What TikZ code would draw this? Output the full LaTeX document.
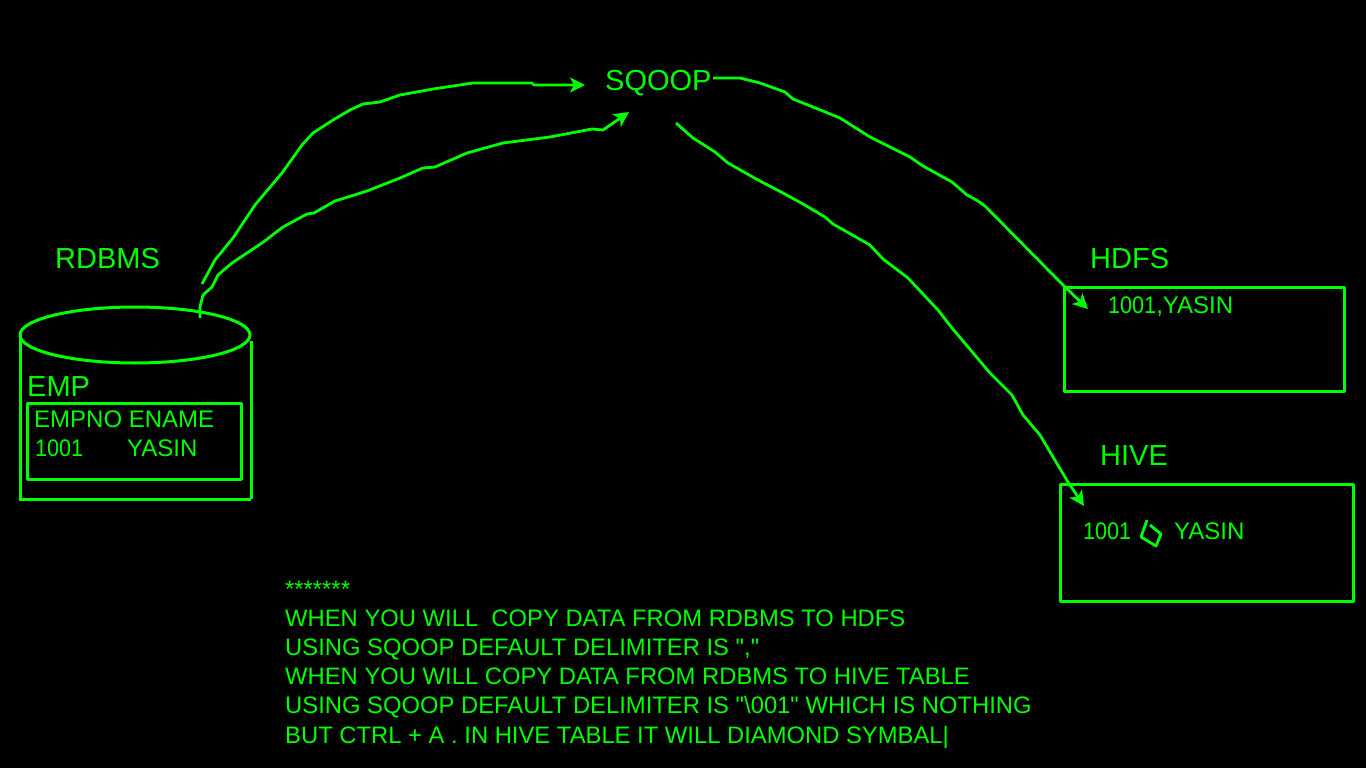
\documentclass[tikz,border=0pt]{standalone}
\usepackage{fontspec}
\setmainfont{Liberation Sans}[Ligatures=TeXOff]
\newfontfamily\digitfont{Liberation Sans}[FakeStretch=0.9,Ligatures=TeXOff]
\usetikzlibrary{arrows.meta,shapes.geometric}
\definecolor{termgreen}{RGB}{0,255,0}

\begin{document}
\begin{tikzpicture}[x=1pt,y=-1pt,>={Stealth[length=15pt,width=15pt,inset=4pt]},line join=round,
    pen/.style    = {draw=termgreen,line width=3pt},
    ink/.style    = {draw=termgreen,line width=2.8pt},
    bigtxt/.style = {text=termgreen,font=\fontsize{29}{29}\selectfont,anchor=base west,inner sep=0pt},
    smalltxt/.style = {text=termgreen,font=\fontsize{24}{24}\selectfont,anchor=base west,inner sep=0pt},
    boxed/.style  = {pen,anchor=north west,inner sep=0pt,outer sep=0pt}]
  \fill[black] (0,0) rectangle (1366,768);
  \useasboundingbox (0,0) rectangle (1366,768);
  % database
  \node[pen,ellipse,minimum width=230pt,minimum height=56pt,inner sep=0pt,outer sep=0pt] (top) at (135,335) {};
  \coordinate (topL) at (20,335);
  \coordinate (topR) at (251,341);
  \coordinate (botL) at (19,499);
  \coordinate (botR) at (251,499);
  \draw[pen] (topL) -- (20,499);
  \draw[pen] (topR) -- (botR);
  \draw[pen] (botL) -- (botR);
  \node[bigtxt] (rdbms) at (55,268) {RDBMS};
  \node[bigtxt] (emp) at (27,396) {EMP};
  \node[boxed,minimum width=214pt,minimum height=76pt] (emptab) at (27,403) {};
  \node[smalltxt] (empno) at (34,427) {EMPNO ENAME};
  \node[smalltxt] (id) at (35,456) {\digitfont 1001};
  \node[smalltxt] (name) at (127,456) {YASIN};
  % middle
  \node[bigtxt] (sqoop) at (605,91) {SQOOP};
  % targets
  \node[bigtxt] (hdfs) at (1090,268) {HDFS};
  \node[boxed,minimum width=280pt,minimum height=104pt] (hdfsbox) at (1064,287) {};
  \node[smalltxt] (hdfsrow) at (1108,313) {{\digitfont 1001},YASIN};
  \node[bigtxt] (hive) at (1100,465) {HIVE};
  \node[boxed,minimum width=293pt,minimum height=117pt] (hivebox) at (1060,484) {};
  \node[smalltxt] (hiveid) at (1083,539) {\digitfont 1001};
  \node[smalltxt] (hivename) at (1174,539) {YASIN};
  \draw[ink] (1147,520) -- (1141,537) -- (1156,546) -- (1161,534) -- (1150,525);
  % note
  \node[text=termgreen,font=\fontsize{23.8}{29.2}\selectfont,anchor=north west,align=left,inner sep=0pt] (note) at (285,580.5) {
    *******\\
    WHEN YOU WILL\ \ COPY DATA FROM RDBMS TO HDFS\\
    USING SQOOP DEFAULT DELIMITER IS ","\\
    WHEN YOU WILL COPY DATA FROM RDBMS TO HIVE TABLE\\
    USING SQOOP DEFAULT DELIMITER IS "\textbackslash 001" WHICH IS NOTHING\\
    BUT CTRL + A . IN HIVE TABLE IT WILL DIAMOND SYMBAL|};
  % flows
  \coordinate (a1) at (202,284);
  \coordinate (a2) at (585,85);
  \coordinate (b1) at (200,318);
  \coordinate (b2) at (629,112);
  \coordinate (c1) at (713,78);
  \coordinate (c2) at (1088,309);
  \coordinate (d1) at (676,123);
  \coordinate (d2) at (1084,506);
  \draw[ink,->] (a1) -- (215,260) -- (233,238) -- (255,205) -- (282,173) -- (302,145)
     -- (313,133) -- (333,120) -- (350,110) -- (363,104) -- (380,102) -- (400,95)
     -- (433,89) -- (473,83) -- (532,83) -- (534,85) -- (a2);
  \draw[ink,->] (b1) -- (200,307) -- (203,295) -- (212,287) -- (218,275) -- (232,263)
     -- (262,243) -- (283,227) -- (307,214) -- (314,213) -- (335,201) -- (367,191)
     -- (400,178) -- (423,168) -- (435,167) -- (467,153) -- (503,143) -- (550,137)
     -- (592,129) -- (603,130) -- (b2);
  \draw[ink,->] (c1) -- (740,78) -- (760,83) -- (785,92) -- (793,99) -- (818,109)
     -- (840,118) -- (870,137) -- (910,157) -- (923,166) -- (952,182) -- (967,195)
     -- (978,201) -- (985,206) -- (1064,286) -- (c2);
  \draw[ink,->] (d1) -- (693,138) -- (715,152) -- (728,163) -- (758,180) -- (783,193)
     -- (803,204) -- (825,217) -- (833,224) -- (870,245) -- (883,259) -- (908,278)
     -- (938,310) -- (952,328) -- (990,373) -- (1012,395) -- (1023,415) -- (1040,435)
     -- (1053,457) -- (1068,482) -- (d2);
\end{tikzpicture}
\end{document}
